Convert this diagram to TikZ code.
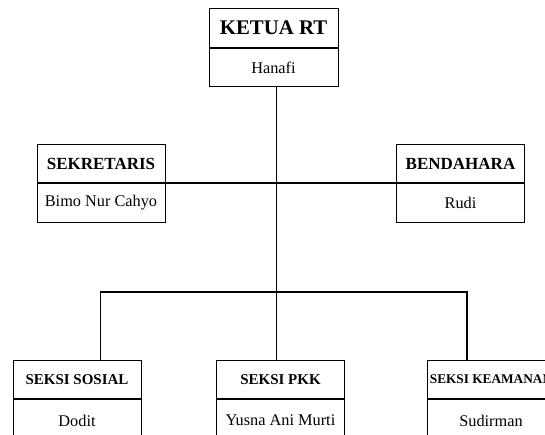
\documentclass[tikz,border=0pt]{standalone}
\usepackage{fontspec}
\setmainfont{Liberation Serif}
\tikzset{
  cell/.style={draw=black, rectangle, inner sep=0pt, minimum width=128pt, anchor=north},
  titlecell/.style={cell, minimum height=38pt, font=\bfseries\fontsize{17}{19}\selectfont},
  personcell/.style={cell, minimum height=38pt, font=\fontsize{16.3}{18}\selectfont},
  divider/.style={draw=black, line width=1.8pt},
  link/.style={draw=black, line width=1.1pt}
}
\begin{document}
\begin{tikzpicture}[x=1pt,y=-1pt,line width=1pt]
  \clip (0,0) rectangle (545,435);
  \fill[white] (0,0) rectangle (545,435);

  % chairman
  \node[titlecell, minimum width=129pt, minimum height=39pt, font=\bfseries\fontsize{20.8}{22}\selectfont] (ketH) at (273.5,8) {KETUA RT};
  \node[personcell, minimum width=129pt] (ketN) at (ketH.south) {Hanafi};

  % secretary and treasurer
  \node[titlecell] (sekH) at (101,144) {SEKRETARIS};
  \node[personcell, minimum height=39pt] (sekN) at (sekH.south) {Bimo Nur Cahyo};
  \node[titlecell] (benH) at (460.5,144) {BENDAHARA};
  \node[personcell, minimum height=39pt] (benN) at (benH.south) {Rudi};

  % sections
  \node[titlecell, font=\bfseries\fontsize{15}{17}\selectfont] (sosH) at (77,360) {SEKSI SOSIAL};
  \node[personcell, minimum height=42pt] (sosN) at (sosH.south) {Dodit};
  \node[titlecell, font=\bfseries\fontsize{15}{17}\selectfont] (pkkH) at (280.5,360) {SEKSI PKK};
  \node[personcell, minimum height=42pt] (pkkN) at (pkkH.south) {Yusna Ani Murti};
  \node[titlecell, font=\bfseries\fontsize{13.3}{15}\selectfont] (kamH) at (491,360) {SEKSI KEAMANAN};
  \node[personcell, minimum height=42pt] (kamN) at (kamH.south) {Sudirman};

  % heavier rule between title and name in each box
  \foreach \n in {ketN,sekN,benN,sosN,pkkN,kamN}
    \draw[divider] (\n.north west) -- (\n.north east);

  % connectors
  \coordinate (trunk) at (276.5,0);
  \coordinate (busL) at (100.5,292);
  \coordinate (busR) at (467,292);
  \draw[link] (ketN.south -| trunk) -- (pkkH.north -| trunk);
  \draw[link] (sekH.south east) -- (benH.south west);
  \draw[link] (sosH.north -| busL) -- (busL) -- (busR) -- (kamH.north -| busR);
\end{tikzpicture}
\end{document}
